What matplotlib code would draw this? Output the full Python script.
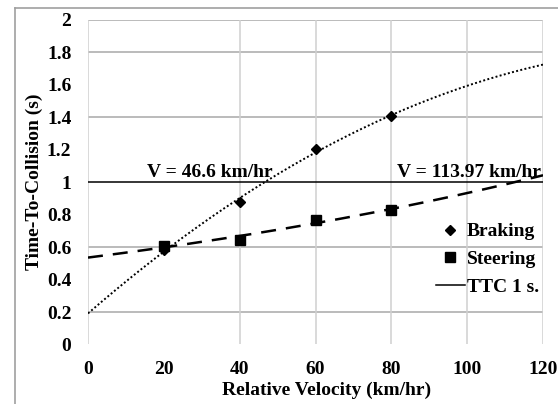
import numpy as np
import matplotlib
matplotlib.use("Agg")
import matplotlib.pyplot as plt
from matplotlib.lines import Line2D

plt.rcParams["font.family"] = ["Liberation Serif", "DejaVu Serif"]
plt.rcParams["font.weight"] = "bold"

# data
velocity = [20, 40, 60, 80]
braking = [0.58, 0.879, 1.207, 1.406]
steering = [0.606, 0.647, 0.770, 0.828]
ttc_limit = 1.0
crossing_labels = ["V = 46.6 km/hr", "V = 113.97 km/hr"]

fig = plt.figure(figsize=(5.58, 4.04), dpi=100)
ax = fig.add_axes([0.1577, 0.1473, 0.8155, 0.8032])

# outer frame (top and left only visible)
fig.add_artist(Line2D([15/558, 1], [1 - 8/404, 1 - 8/404], color="#a0a0a0", lw=1.2))
fig.add_artist(Line2D([15/558, 15/558], [0, 1 - 8/404], color="#a0a0a0", lw=1.2))

# grid as it shows in the reference
for gy in [0.2, 0.6, 1.4, 1.8, 2.0]:
    ax.axhline(gy, color="#a8a8a8", lw=1.1, zorder=0)
for gx in [0, 40, 60, 80, 100, 120]:
    ax.axvline(gx, color="#d0d0d0", lw=1.1, zorder=0)

# trendlines
xs = np.linspace(0, 120, 200)
pb = np.polyfit(velocity, braking, 2)
ax.plot(xs, np.polyval(pb, xs), color="black", lw=1.4, linestyle=(0, (1, 1.2)), zorder=2)
ps = np.polyfit(velocity, np.log(steering), 1)
ax.plot(xs, np.exp(np.polyval(ps, xs)), color="black", lw=1.8, linestyle=(0, (6, 4)), zorder=2)

ax.axhline(ttc_limit, color="black", lw=1.1, zorder=2)

ax.plot(velocity, braking, "D", color="black", ms=5, zorder=3)
ax.plot(velocity, steering, "s", color="black", ms=7, zorder=3)

ax.text(15.5, 1.01, crossing_labels[0], ha="left", va="bottom", fontsize=14, fontweight="bold")
ax.text(119.5, 1.01, crossing_labels[1], ha="right", va="bottom", fontsize=14, fontweight="bold")

handles = [
    Line2D([], [], marker="D", color="black", ls="none", ms=5),
    Line2D([], [], marker="s", color="black", ls="none", ms=7),
    Line2D([], [], color="black", lw=1.1),
]
ax.legend(handles, ["Braking", "Steering", "TTC 1 s."], loc="upper left",
          bbox_to_anchor=(0.743, 0.405), frameon=False, fontsize=14,
          handlelength=1.5, handletextpad=0.1, labelspacing=0.52, borderpad=0)

ax.set_xlim(0, 120)
ax.set_ylim(0, 2)
ax.set_xticks([0, 20, 40, 60, 80, 100, 120])
ax.set_yticks([0, 0.2, 0.4, 0.6, 0.8, 1, 1.2, 1.4, 1.6, 1.8, 2])
ax.set_yticklabels(["0", "0.2", "0.4", "0.6", "0.8", "1", "1.2", "1.4", "1.6", "1.8", "2"])
ax.tick_params(length=0, labelsize=14, pad=12)
ax.tick_params(axis="y", pad=12)
for s in ax.spines.values():
    s.set_visible(False)

ax.set_xlabel("Relative Velocity (km/hr)", fontsize=14, fontweight="bold")
ax.xaxis.set_label_coords(0.525, -0.115)
ax.set_ylabel("Time-To-Collision (s)", fontsize=14, fontweight="bold", labelpad=3)

fig.savefig("out.png", dpi=100)
